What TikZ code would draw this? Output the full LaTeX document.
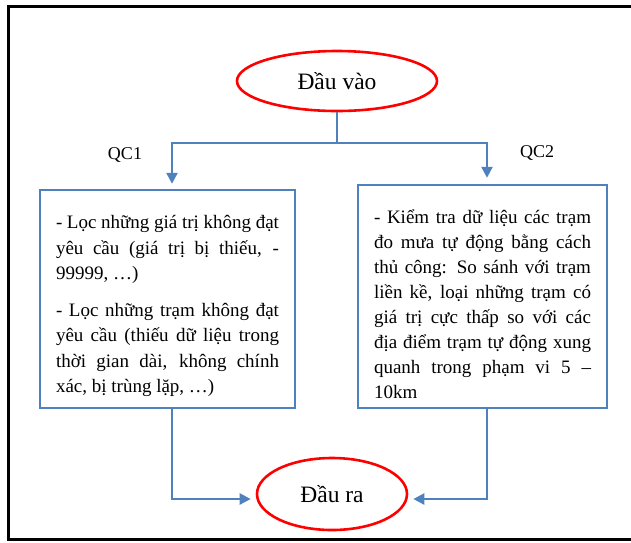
\documentclass[tikz,border=0pt]{standalone}
\usepackage{fontspec}
\setmainfont{Liberation Serif}
\usetikzlibrary{shapes.geometric,arrows.meta}
\definecolor{lineblue}{RGB}{79,129,189}
\begin{document}
\begin{tikzpicture}[x=1pt, y=-1pt, line join=miter,
    flow/.style={draw=lineblue, line width=2.4pt, -{Triangle[length=11pt,width=11pt]}},
    qcbox/.style={draw=lineblue, line width=2.4pt, rectangle, inner xsep=16pt, inner ysep=0pt, align=justify, font=\fontsize{19}{25}\selectfont},
    endpoint/.style={draw=red, line width=2.6pt, ellipse, inner sep=0pt, font=\fontsize{23.5}{27}\selectfont}]
    \useasboundingbox (0,0) rectangle (631,542);
    % frame
    \draw[line width=3pt] (631,6)--(8,6)--(8,539.5)--(631,539.5);
    % start and end
    \node[endpoint, minimum width=200pt, minimum height=60pt] (in) at (337,81) {Đầu vào};
    \node[endpoint, minimum width=150pt, minimum height=72pt] (out) at (332,494) {Đầu ra};
    % the two checks
    \node[qcbox, text width=223pt, minimum width=255pt, minimum height=218pt] (qc1box) at (167.5,299)
        {\par\vspace*{2.4pt}\baselineskip=25.5pt - Lọc những giá trị không đạt\linebreak yêu cầu (giá trị bị thiếu, -\linebreak 99999, …)\par\vspace{11pt}
         - Lọc những trạm không đạt\linebreak yêu cầu (thiếu dữ liệu trong\linebreak thời gian dài, không chính\linebreak xác, bị trùng lặp, …)\par};
    \node[qcbox, text width=217pt, minimum width=249pt, minimum height=223pt] (qc2box) at (482.5,296.5)
        {\par\vspace*{5pt}- Kiểm tra dữ liệu các trạm\linebreak đo mưa tự động bằng cách\linebreak thủ công: So sánh với trạm\linebreak liền kề, loại những trạm có\linebreak giá trị cực thấp so với các\linebreak địa điểm trạm tự động xung\linebreak quanh trong phạm vi 5 –\linebreak 10km};
    \node[font=\fontsize{18}{22}\selectfont] (qc1) at (125,155) {QC1};
    \node[font=\fontsize{18}{22}\selectfont] (qc2) at (537,153) {QC2};
    % connectors
    \coordinate (split) at (337,143);
    \draw[draw=lineblue, line width=2.4pt] (in.south)--(split);
    \draw[flow, shorten >=5pt] (split)-|([xshift=4.5pt]qc1box.north);
    \draw[flow, shorten >=6pt] (split)-|([xshift=4.5pt]qc2box.north);
    \draw[flow, shorten >=5pt] ([xshift=4.5pt]qc1box.south)|-([yshift=-5pt]out.west);
    \draw[flow, shorten >=5pt] ([xshift=4.5pt]qc2box.south)|-([yshift=-5pt]out.east);
\end{tikzpicture}
\end{document}
